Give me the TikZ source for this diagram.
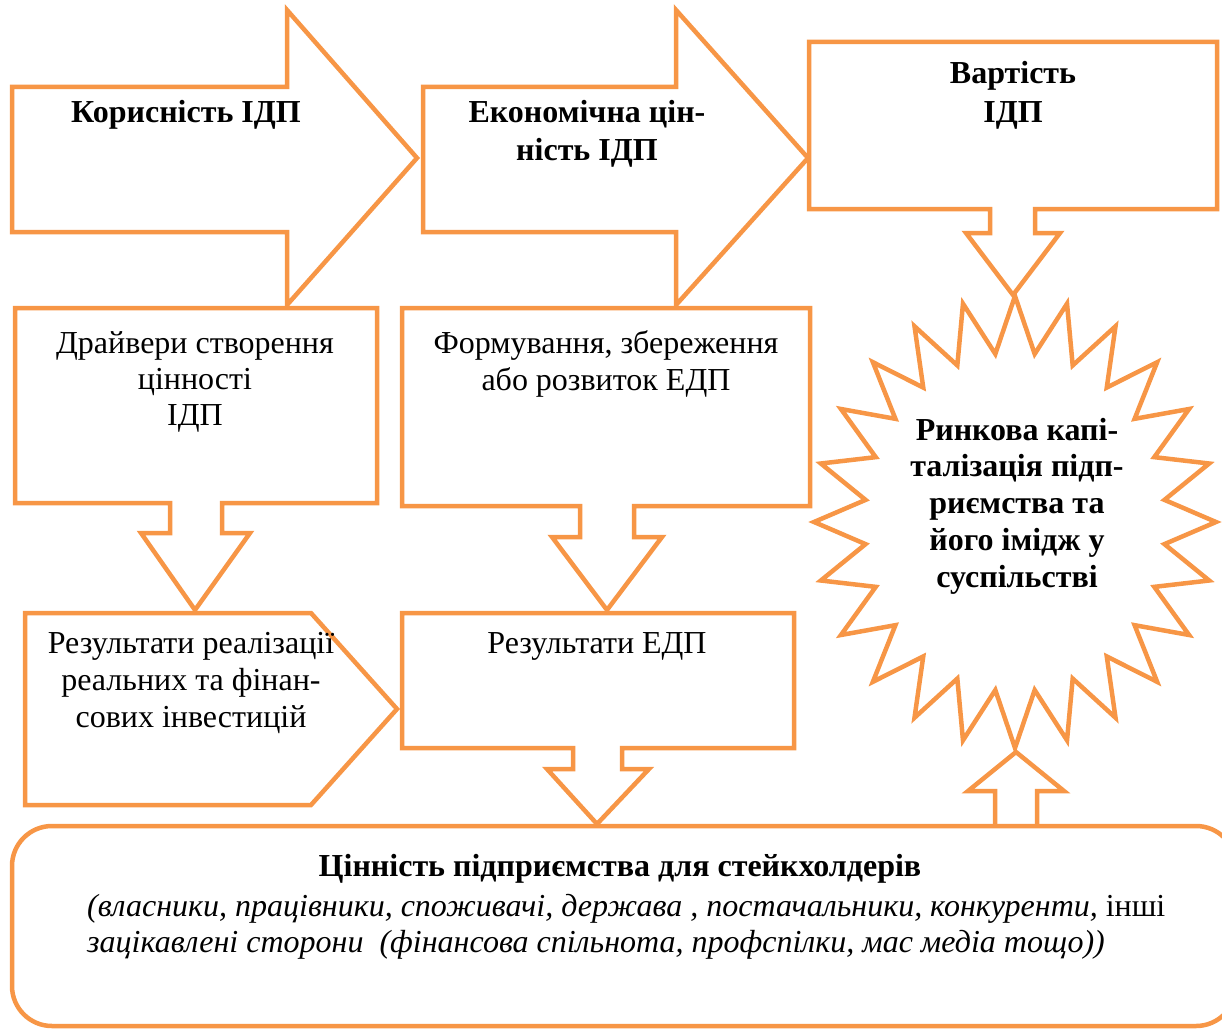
\documentclass[tikz,border=0pt]{standalone}
\usepackage{fontspec}
\setmainfont{Liberation Serif}
\definecolor{orng}{HTML}{F79646}
\begin{document}
\begin{tikzpicture}[x=1pt,y=-1pt,
  shp/.style={draw=orng, line width=4.5pt, line join=miter, fill=white},
  txt/.style={font=\fontsize{32}{37}\selectfont, align=center, anchor=base, inner sep=0pt},
  btxt/.style={txt, font=\fontsize{32}{37}\selectfont\bfseries}]
\useasboundingbox (0,0) rectangle (1222,1030);
% top arrows
\draw[shp] (12,87)--(287,87)--(287,10)--(417,158)--(287,305)--(287,232)--(12,232)--cycle;
\draw[shp] (423,87)--(676,87)--(676,10)--(808,158)--(676,305)--(676,232)--(423,232)--cycle;
% starburst
\draw[shp] plot[domain=0:48, samples=49, variable=\k]
  ({1015+201*(0.875+0.125*cos(\k*180))*cos(90-\k*7.5)},
   {522-226*(0.875+0.125*cos(\k*180))*sin(90-\k*7.5)}) -- cycle;
% value box with down arrow
\draw[shp] (809,42)--(1217,42)--(1217,209)--(1035,209)--(1035,233)--(1060,233)--(1013,295)--(966,233)--(990,233)--(990,209)--(809,209)--cycle;
% drivers box
\draw[shp] (15,308)--(377,308)--(377,503)--(222,503)--(222,533)--(250,533)--(195,610)--(141,533)--(170,533)--(170,503)--(15,503)--cycle;
% formation box
\draw[shp] (402,308)--(810,308)--(810,506)--(634,506)--(634,537)--(662,537)--(607,610)--(552,537)--(580,537)--(580,506)--(402,506)--cycle;
% pentagon
\draw[shp] (25,613)--(311,613)--(397,709)--(311,805)--(25,805)--cycle;
% results box
\draw[shp] (402,613)--(794,613)--(794,748)--(622,748)--(622,769)--(649,769)--(597,824)--(547,769)--(573,769)--(573,748)--(402,748)--cycle;
% up arrow
\draw[shp] (995,830)--(995,791)--(968,791)--(1016,752)--(1064,791)--(1037,791)--(1037,830);
% bottom rounded box (runs past the right edge)
\draw[shp, rounded corners=40pt] (12,826) rectangle (1236,1026);
% texts (anchor base = baseline of last line)
\node[btxt] (t1) at (186,123) {Корисність ІДП};
\node[btxt, font=\fontsize{32}{38}\selectfont\bfseries] (t2) at (587,160) {Економічна цін-\\ність ІДП};
\node[btxt, font=\fontsize{32}{39}\selectfont\bfseries] (t3) at (1013,122) {Вартість\\ІДП};
\node[txt, font=\fontsize{32}{36}\selectfont] (t4) at (195,425) {Драйвери створення\\цінності\\ІДП};
\node[txt] (t5) at (606,390) {Формування, збереження\\або розвиток ЕДП};
\node[txt] (t6) at (191,727) {Результати реалізації\\реальних та фінан-\\сових інвестицій};
\node[txt] (t7) at (597,653) {Результати ЕДП};
\node[btxt, font=\fontsize{32}{36.7}\selectfont\bfseries] (t8) at (1017,587) {Ринкова капі-\\талізація підп-\\риємства та\\його імідж у\\суспільстві};
\node[btxt] (t9) at (620,876) {Цінність підприємства для стейкхолдерів};
\node[txt, anchor=base west, align=left, font=\fontsize{32}{36}\selectfont\itshape] (t10) at (87,952)
  {(власники, працівники, споживачі, держава , постачальники, конкуренти, \textup{інші}\\зацікавлені сторони\ \ (фінансова спільнота, профспілки, мас медіа тощо))};
\end{tikzpicture}
\end{document}
